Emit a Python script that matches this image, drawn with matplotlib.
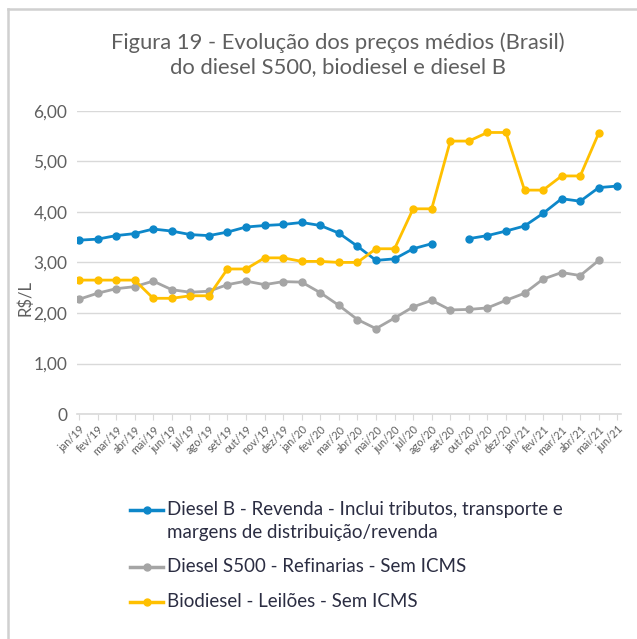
import numpy as np
import matplotlib
matplotlib.use("Agg")
import matplotlib.pyplot as plt
from matplotlib.lines import Line2D

months = ["jan/19", "fev/19", "mar/19", "abr/19", "mai/19", "jun/19", "jul/19", "ago/19",
          "set/19", "out/19", "nov/19", "dez/19", "jan/20", "fev/20", "mar/20", "abr/20",
          "mai/20", "jun/20", "jul/20", "ago/20", "set/20", "out/20", "nov/20", "dez/20",
          "jan/21", "fev/21", "mar/21", "abr/21", "mai/21", "jun/21"]

nan = np.nan
diesel_b = [3.44, 3.46, 3.53, 3.57, 3.66, 3.62, 3.55, 3.53, 3.60, 3.70, 3.73, 3.75,
            3.79, 3.73, 3.58, 3.32, 3.04, 3.07, 3.27, 3.37, nan, 3.47, 3.53, 3.62,
            3.72, 3.97, 4.26, 4.21, 4.48, 4.51]
diesel_s500 = [2.27, 2.39, 2.48, 2.52, 2.63, 2.46, 2.41, 2.43, 2.56, 2.63, 2.56, 2.62,
               2.61, 2.40, 2.15, 1.87, 1.69, 1.90, 2.12, 2.25, 2.06, 2.07, 2.10, 2.25,
               2.39, 2.67, 2.80, 2.74, 3.04, nan]
biodiesel = [2.65, 2.65, 2.65, 2.65, 2.29, 2.29, 2.34, 2.34, 2.87, 2.87, 3.09, 3.09,
             3.02, 3.02, 3.00, 3.00, 3.27, 3.27, 4.06, 4.06, 5.40, 5.40, 5.57, 5.57,
             4.43, 4.43, 4.71, 4.71, 5.56, nan]

labels = ["Diesel B - Revenda - Inclui tributos, transporte e\nmargens de distribuição/revenda",
          "Diesel S500 - Refinarias - Sem ICMS",
          "Biodiesel - Leilões - Sem ICMS"]
colors = ["#0d87c9", "#a5a5a5", "#ffc000"]
yticks = [0, 1, 2, 3, 4, 5, 6]
ytick_labels = ["0", "1,00", "2,00", "3,00", "4,00", "5,00", "6,00"]

plt.rcParams['font.family'] = ['Lato', 'DejaVu Sans']
gray_txt = "#5f5f5f"
W, H = 637, 639

fig = plt.figure(figsize=(6.37, 6.39), dpi=100)
ax = fig.add_axes([0.121, 0.352, 0.854, 0.4747])

x = np.arange(len(months))
for series, c in zip([diesel_b, diesel_s500, biodiesel], colors):
    ax.plot(x, series, color=c, lw=2.0, marker="o", markersize=5, solid_joinstyle="round")

ax.set_xlim(-0.1, 29.2)
ax.set_ylim(0, 6.0)
ax.set_yticks(yticks)
ax.set_yticklabels(ytick_labels, fontsize=12.5, color=gray_txt)
ax.set_xticks(x)
ax.set_xticklabels(months, rotation=45, ha="right", va="top", rotation_mode="anchor",
                   fontsize=7.8, color=gray_txt)
ax.tick_params(axis="y", length=0, pad=7)
ax.tick_params(axis="x", length=4, color="#d9d9d9", pad=3)
ax.grid(axis="y", color="#d9d9d9", lw=1)
ax.set_axisbelow(True)
for s in ["top", "right", "left"]:
    ax.spines[s].set_visible(False)
ax.spines["bottom"].set_color("#d9d9d9")
ax.spines["bottom"].set_linewidth(1.2)

fig.text(25 / W, 1 - 298 / H, "R$/L", rotation=90, ha="center", va="center",
         fontsize=12, color=gray_txt)

fig.text(338 / W, 1 - 43 / H, "Figura 19 - Evolução dos preços médios (Brasil)",
         ha="center", va="center", fontsize=15.8, color=gray_txt)
fig.text(338 / W, 1 - 67 / H, "do diesel S500, biodiesel e diesel B",
         ha="center", va="center", fontsize=15.8, color=gray_txt)

# legenda desenhada à mão para controlar o espaçamento
leg_rows = [510, 567, 602]
for lab, c, yy in zip(labels, colors, leg_rows):
    fy = 1 - yy / H
    fig.add_artist(Line2D([130 / W, 163 / W], [fy, fy], color=c, lw=2.5))
    fig.add_artist(Line2D([147 / W], [fy], color=c, marker="o", markersize=5))
    fig.text(167 / W, fy + 9 / H, lab, ha="left", va="top", fontsize=13.5,
             color="#2b2d42", linespacing=1.45)

# borda clara ao redor (topo e esquerda)
fig.add_artist(Line2D([8 / W, 8 / W], [0, 1 - 9 / H], color="#d0d0d0", lw=1.8))
fig.add_artist(Line2D([8 / W, 1], [1 - 9 / H, 1 - 9 / H], color="#d0d0d0", lw=1.8))

fig.savefig("out.png", dpi=100)
